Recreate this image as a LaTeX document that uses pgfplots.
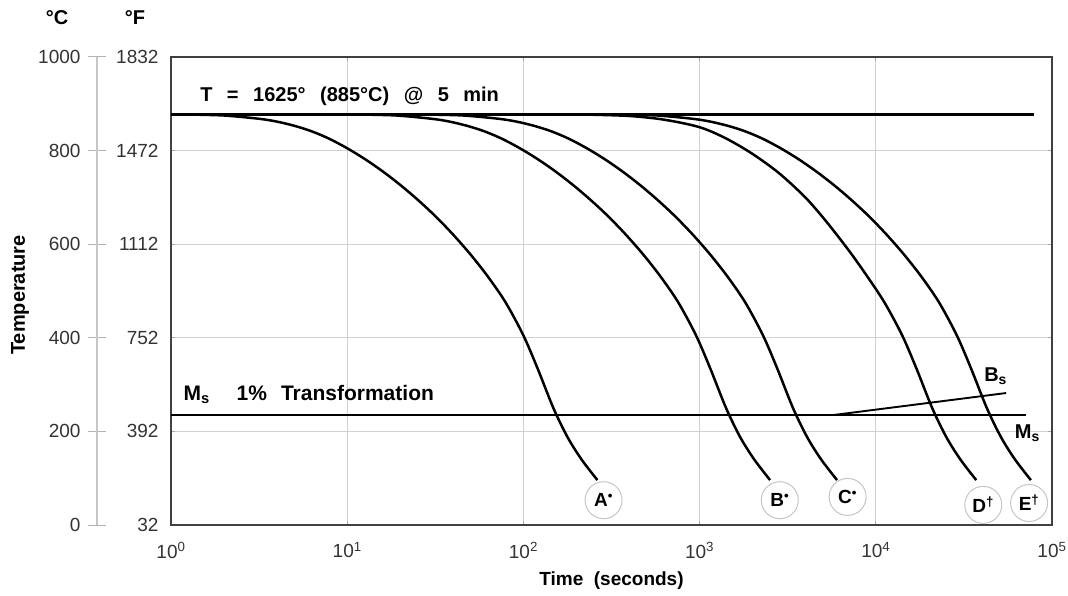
\documentclass[border=0pt]{standalone}
\usepackage{fontspec}
\setmainfont{Liberation Sans}
\usepackage{pgfplots}
\pgfplotsset{compat=1.18}
\newcommand{\lbl}{\fontsize{20}{22}\selectfont\bfseries}
\newcommand{\gap}{\hspace{14.5pt}}
\begin{document}
\begin{tikzpicture}[x=1pt,y=1pt]
\path[use as bounding box] (0,0) rectangle (1068,595);
% Celsius scale
\begin{axis}[
  at={(97pt,70pt)}, anchor=south west, scale only axis,
  width=1pt, height=468pt,
  xmin=0, xmax=1, ymin=0, ymax=1000,
  hide x axis, axis y line*=left,
  y axis line style={gray!45, line width=1.3pt, -},
  ytick={0,200,400,600,800,1000},
  yticklabels={0,200,400,600,800,1000},
  ytick style={gray!60, line width=1pt},
  major tick length=18pt, tick align=center,
  yticklabel style={font=\fontsize{19}{21}\selectfont, xshift=-4pt, text=black!80},
  /pgf/number format/assume math mode=true,
]
\end{axis}
% main axis
\begin{axis}[
  at={(171pt,70pt)}, anchor=south west, scale only axis,
  width=881pt, height=468pt,
  xmin=0, xmax=5, ymin=0, ymax=1000,
  xtick={0,1,2,3,4,5},
  xticklabels={10\textsuperscript{0},10\textsuperscript{1},10\textsuperscript{2},10\textsuperscript{3},10\textsuperscript{4},10\textsuperscript{5}},
  ytick={0,200,400,600,800,1000},
  yticklabels={32,392,752,1112,1472,1832},
  grid=major, grid style={gray!35, line width=1.2pt},
  axis line style={black!75, line width=1.6pt},
  tick style={gray!70, line width=0.8pt}, major tick length=4pt,
  ticklabel style={font=\fontsize{19}{21}\selectfont, text=black!80},
  yticklabel style={xshift=-9pt},
  xticklabel style={yshift=-14pt},
  /pgf/number format/assume math mode=true,
  xlabel={\fontsize{19}{21}\selectfont\bfseries Time\ \ (seconds)},
  xlabel style={yshift=-7pt},
  clip=false,
]
% austenitizing temperature line
\addplot[black, line width=2.3pt] coordinates {(0,877) (4.90,877)};
% Ms line
\addplot[black, line width=2.3pt] coordinates {(0,235) (4.85,235)};
% Bs line
\addplot[black, line width=1.9pt] coordinates {(3.76,235) (4.74,282)};
% cooling curves
\addplot[black, line width=2.5pt, smooth] coordinates {
(0.10,877) (0.30,875) (0.50,868) (0.60,862) (0.70,853) (0.80,841) (0.90,825) (1.00,805)
(1.10,782) (1.20,756) (1.30,727) (1.40,695) (1.50,660) (1.60,621) (1.70,578) (1.80,530)
(1.90,475) (2.00,405) (2.08,335) (2.17,250) (2.25,188) (2.33,140) (2.42,96)};
\addplot[black, line width=2.5pt, smooth] coordinates {
(1.08,877) (1.28,875) (1.48,868) (1.58,862) (1.68,853) (1.78,841) (1.88,825) (1.98,805)
(2.08,782) (2.18,756) (2.28,727) (2.38,695) (2.48,660) (2.58,621) (2.68,578) (2.78,530)
(2.88,475) (2.98,405) (3.06,335) (3.15,250) (3.23,188) (3.31,140) (3.40,96)};
\addplot[black, line width=2.5pt, smooth] coordinates {
(1.46,877) (1.66,875) (1.86,868) (1.96,862) (2.06,853) (2.16,841) (2.26,825) (2.36,805)
(2.46,782) (2.56,756) (2.66,727) (2.76,695) (2.86,660) (2.96,621) (3.06,578) (3.16,530)
(3.26,475) (3.36,405) (3.44,335) (3.53,250) (3.61,188) (3.69,140) (3.78,96)};
\addplot[black, line width=2.5pt, smooth] coordinates {
(2.35,877) (2.60,874) (2.80,866) (3.00,850) (3.15,826) (3.30,793) (3.45,752) (3.60,700)
(3.72,648) (3.85,585) (3.95,532) (4.05,475) (4.15,405) (4.23,335) (4.32,250) (4.40,188)
(4.48,140) (4.57,96)};
\addplot[black, line width=2.5pt, smooth] coordinates {
(2.56,877) (2.76,875) (2.96,868) (3.06,862) (3.16,853) (3.26,841) (3.36,825) (3.46,805)
(3.56,782) (3.66,756) (3.76,727) (3.86,695) (3.96,660) (4.06,621) (4.16,578) (4.26,530)
(4.36,475) (4.46,405) (4.54,335) (4.63,250) (4.71,188) (4.79,140) (4.88,96)};
% annotations
\node[anchor=west, font=\lbl, inner sep=0pt] at (axis cs:0.165,917) {T\gap=\gap1625°\gap(885°C)\gap@\gap5\gap min};
\node[anchor=west, font=\fontsize{21}{23}\selectfont\bfseries, inner sep=0pt] at (axis cs:0.07,279) {M\textsubscript{s}\hspace{27pt}1\%\hspace{14pt}Transformation};
\node[font=\lbl] at (axis cs:4.68,318) {B\textsubscript{s}};
\node[font=\lbl] at (axis cs:4.86,197) {M\textsubscript{s}};
\tikzset{lab/.style={circle, draw=gray!45, line width=1pt, minimum size=37pt, inner sep=0pt, fill=white, font=\fontsize{19}{19}\selectfont\bfseries}}
\node[lab] at (axis cs:2.455,53) {A\textsuperscript{•}};
\node[lab] at (axis cs:3.455,53) {B\textsuperscript{•}};
\node[lab] at (axis cs:3.84,60) {C\textsuperscript{•}};
\node[lab] at (axis cs:4.61,43) {D\textsuperscript{†}};
\node[lab] at (axis cs:4.87,47) {E\textsuperscript{†}};
\end{axis}
\node[font=\lbl, rotate=90] at (20,300) {Temperature};
\node[font=\lbl] at (57,577) {°C};
\node[font=\lbl] at (135,577) {°F};
\end{tikzpicture}
\end{document}
